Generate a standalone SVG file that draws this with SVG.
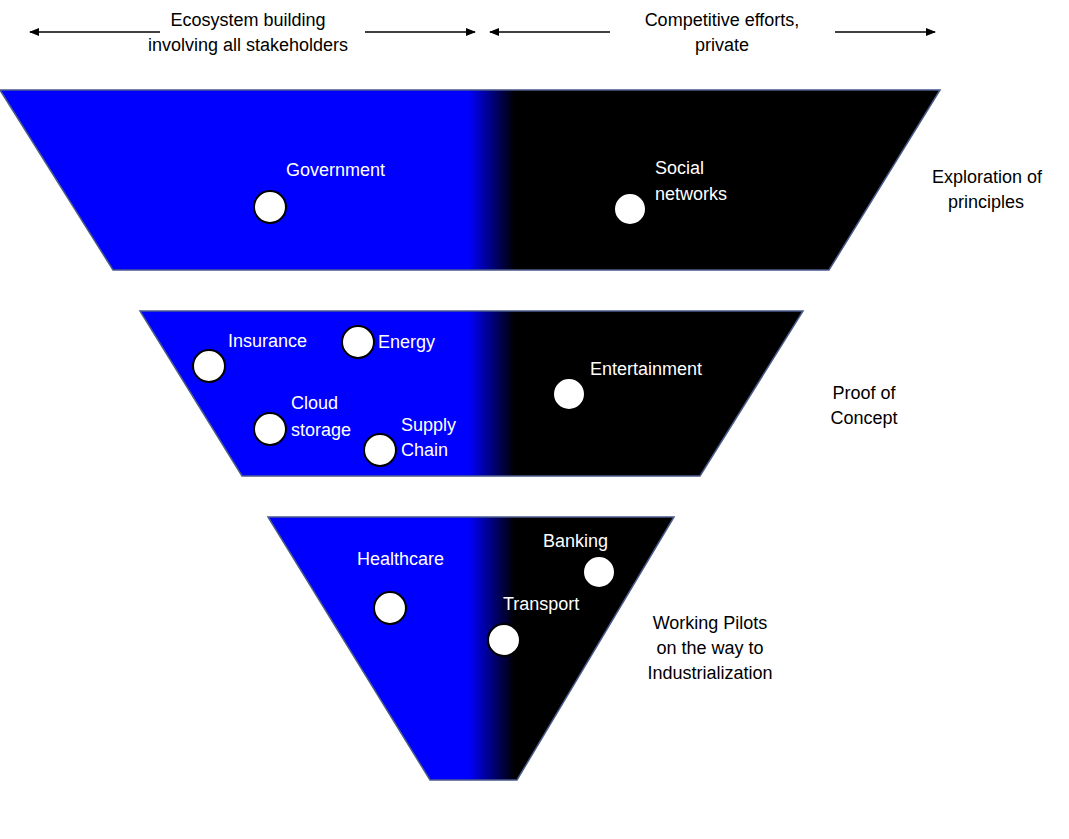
<svg xmlns="http://www.w3.org/2000/svg" width="1069" height="839" viewBox="0 0 1069 839">
<style>
text{font-family:"Liberation Sans",Arial,sans-serif;font-size:18px}
.w{fill:#fff}.k{fill:#000}
.dot{fill:#fff;stroke:#000;stroke-width:2}
.arr{stroke:#000;stroke-width:1.5;fill:none;marker-end:url(#ah)}
.band{stroke:#4a5a8a;stroke-width:1.5}
</style>
<defs>
<marker id="ah" markerWidth="10" markerHeight="8" refX="9" refY="4" orient="auto" markerUnits="userSpaceOnUse"><path d="M0,0L10,4L0,8z" fill="#000"/></marker>
<linearGradient id="g" gradientUnits="userSpaceOnUse" x1="468" y1="0" x2="515" y2="0"><stop offset="0" stop-color="#0000ff"/><stop offset="1" stop-color="#000"/></linearGradient>
</defs>
<g id="connectors">
<line class="arr" x1="160" y1="32" x2="30" y2="32"/>
<line class="arr" x1="365" y1="32" x2="475" y2="32"/>
<line class="arr" x1="610" y1="32" x2="490" y2="32"/>
<line class="arr" x1="835" y1="32" x2="935" y2="32"/>
</g>
<g id="header-left"><text class="k" x="248" y="26" text-anchor="middle">Ecosystem building</text><text class="k" x="248" y="51" text-anchor="middle">involving all stakeholders</text></g>
<g id="header-right"><text class="k" x="722" y="26" text-anchor="middle">Competitive efforts,</text><text class="k" x="722" y="51" text-anchor="middle">private</text></g>
<g id="band1"><polygon class="band" points="0,90 940,90 829,270 113,270" fill="url(#g)"/></g>
<g id="band2"><polygon class="band" points="140,311 803,311 700,476 242,476" fill="url(#g)"/></g>
<g id="band3"><polygon class="band" points="268,517 674,517 517,780 430,780" fill="url(#g)"/></g>
<g id="government"><circle class="dot" cx="270" cy="207" r="16"/><text class="w" x="286" y="176">Government</text></g>
<g id="social"><circle class="dot" cx="630" cy="209" r="16"/><text class="w" x="655" y="174">Social</text><text class="w" x="655" y="200">networks</text></g>
<g id="insurance"><circle class="dot" cx="209" cy="366" r="16"/><text class="w" x="228" y="347">Insurance</text></g>
<g id="energy"><circle class="dot" cx="358" cy="342" r="16"/><text class="w" x="378" y="348">Energy</text></g>
<g id="cloud"><circle class="dot" cx="270" cy="429" r="16"/><text class="w" x="291" y="409">Cloud</text><text class="w" x="291" y="436">storage</text></g>
<g id="supply"><circle class="dot" cx="380" cy="450" r="16"/><text class="w" x="401" y="431">Supply</text><text class="w" x="401" y="456">Chain</text></g>
<g id="entertainment"><circle class="dot" cx="569" cy="394" r="16"/><text class="w" x="590" y="375">Entertainment</text></g>
<g id="healthcare"><circle class="dot" cx="390" cy="608" r="16"/><text class="w" x="357" y="565">Healthcare</text></g>
<g id="banking"><circle class="dot" cx="599" cy="572" r="16"/><text class="w" x="543" y="547">Banking</text></g>
<g id="transport"><circle class="dot" cx="504" cy="640" r="16"/><text class="w" x="503" y="610">Transport</text></g>
<g id="lbl1"><text class="k" x="932" y="183">Exploration of</text><text class="k" x="948" y="208">principles</text></g>
<g id="lbl2"><text class="k" x="864" y="399" text-anchor="middle">Proof of</text><text class="k" x="864" y="424" text-anchor="middle">Concept</text></g>
<g id="lbl3"><text class="k" x="710" y="629" text-anchor="middle">Working Pilots</text><text class="k" x="710" y="654" text-anchor="middle">on the way to</text><text class="k" x="710" y="679" text-anchor="middle">Industrialization</text></g>
</svg>
